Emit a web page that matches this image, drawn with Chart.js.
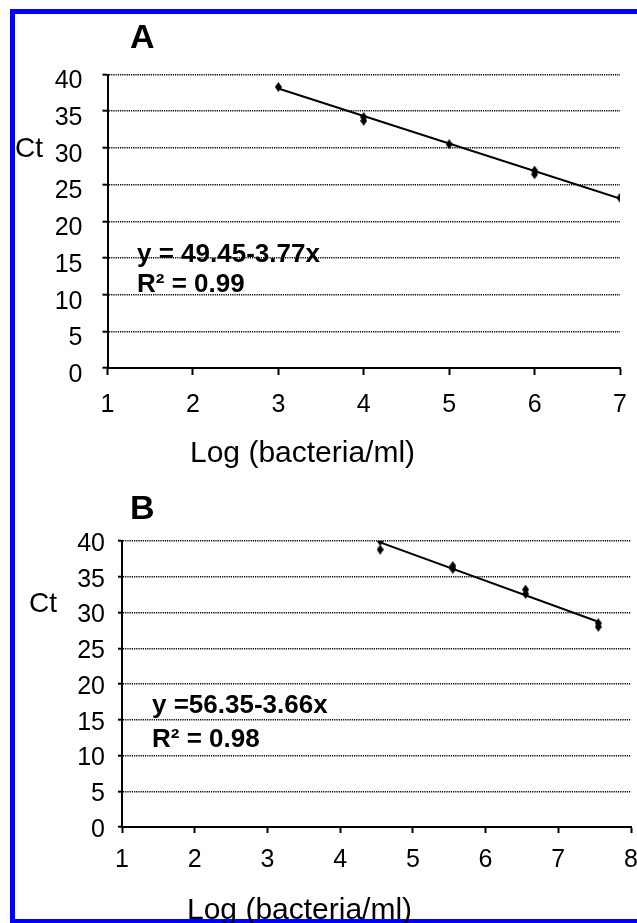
<!DOCTYPE html>
<html><head><meta charset="utf-8">
<script src="https://cdn.jsdelivr.net/npm/chart.js@4"></script>
<style>
html,body{margin:0;padding:0;background:#fff;width:637px;height:923px;overflow:hidden;position:relative}
#frame{position:absolute;left:10px;top:9px;width:700px;height:914px;border-top:5px solid #0000ff;border-left:5px solid #0000ff;border-bottom:4px solid #0000ff;box-sizing:border-box}
canvas{position:absolute;left:0}
#cA{top:0}
#cB{top:478px}
</style></head>
<body>
<div id="frame"></div>
<canvas id="cA" width="660" height="478"></canvas>
<canvas id="cB" width="660" height="445"></canvas>
<script>
// ---- data ----
const aLogX = [3, 4, 4, 5, 6, 6, 7];
const aCt   = [38.3, 34.2, 33.7, 30.5, 26.9, 26.4, 23.2];
const aFitX = [3, 7];
const aFitCt = [38.1, 23.1];
const bLogX = [4.55, 4.55, 5.55, 5.55, 6.55, 6.55, 7.55, 7.55];
const bCt   = [40.0, 38.8, 36.5, 36.1, 33.2, 32.6, 28.5, 28.0];
const bFitX = [4.55, 7.55];
const bFitCt = [39.8, 28.7];
const aXTicks = [1, 2, 3, 4, 5, 6, 7];
const bXTicks = [1, 2, 3, 4, 5, 6, 7, 8];
const yTicks = [0, 5, 10, 15, 20, 25, 30, 35, 40];
const aEquation = 'y = 49.45-3.77x';
const aR2 = 'R\u00B2 = 0.99';
const bEquation = 'y =56.35-3.66x';
const bR2 = 'R\u00B2 = 0.98';
const yTitle = 'Ct';
const xTitle = 'Log (bacteria/ml)';

const FONT = "'Liberation Sans', Arial, Helvetica, sans-serif";
Chart.defaults.font.family = FONT;
Chart.defaults.color = '#000';

// tall diamond marker
const diamond = document.createElement('canvas');
diamond.width = 7; diamond.height = 10;
(function () {
  const c = diamond.getContext('2d');
  c.fillStyle = '#000';
  c.beginPath();
  c.moveTo(3.5, 0); c.lineTo(7, 5); c.lineTo(3.5, 10); c.lineTo(0, 5); c.closePath();
  c.fill();
})();

const textPlugin = {
  id: 'freeText',
  afterDraw(chart, args, opts) {
    const ctx = chart.ctx;
    ctx.save();
    ctx.fillStyle = '#000';
    ctx.textAlign = 'left';
    ctx.textBaseline = 'alphabetic';
    for (const t of opts.items || []) {
      ctx.font = t.font;
      ctx.fillText(t.text, t.x, t.y);
    }
    ctx.restore();
  }
};

function pts(xs, ys) { return xs.map((v, i) => ({x: v, y: ys[i]})); }

function makeChart(id, cfg) {
  return new Chart(document.getElementById(id), {
    type: 'scatter',
    data: {
      datasets: [
        {data: pts(cfg.fitX, cfg.fitY), showLine: true, borderColor: '#000', borderWidth: 2,
         pointRadius: 0, pointHoverRadius: 0, fill: false, order: 2},
        {data: pts(cfg.px, cfg.py), showLine: false, pointStyle: diamond, pointRadius: 5,
         order: 1}
      ]
    },
    options: {
      responsive: false, animation: false, devicePixelRatio: 1,
      layout: {padding: {left: 0, top: cfg.padTop, right: cfg.padRight, bottom: 0}},
      plugins: {legend: {display: false}, tooltip: {enabled: false}, freeText: {items: cfg.texts}},
      scales: {
        x: {
          type: 'linear', min: cfg.xTicks[0], max: cfg.xTicks[cfg.xTicks.length - 1],
          afterBuildTicks: s => { s.ticks = cfg.xTicks.map(v => ({value: v})); },
          afterFit: s => { s.height = cfg.xHeight; },
          ticks: {font: {size: 25}, color: '#000', padding: cfg.xPad, maxRotation: 0, autoSkip: false},
          grid: {drawOnChartArea: false, drawTicks: true, tickLength: cfg.xTick, tickColor: '#000', tickWidth: 2, tickBorderDash: []},
          border: {display: true, color: '#000', width: 2}
        },
        y: {
          type: 'linear', min: 0, max: 40,
          afterBuildTicks: s => { s.ticks = yTicks.map(v => ({value: v})); },
          afterFit: s => { s.width = cfg.yWidth; },
          ticks: {font: {size: 25}, color: '#000', padding: cfg.yPad, labelOffset: cfg.yLabelOffset, autoSkip: false},
          grid: {color: '#000', lineWidth: 1.4, drawTicks: true, tickLength: cfg.yTick, tickColor: '#000', tickWidth: 2, tickBorderDash: []},
          border: {display: true, color: '#000', width: 2, dash: [1.2, 1]}
        }
      }
    },
    plugins: [textPlugin]
  });
}

makeChart('cA', {
  px: aLogX, py: aCt, fitX: aFitX, fitY: aFitCt, xTicks: aXTicks,
  padTop: 74.5, padRight: 40, xHeight: 110, yWidth: 107.5,
  xPad: 15.5, xTick: 7, yPad: 20, yTick: 5, yLabelOffset: 7,
  texts: [
    {text: 'A', font: 'bold 34px ' + FONT, x: 130, y: 48},
    {text: yTitle, font: '28px ' + FONT, x: 15, y: 157},
    {text: aEquation, font: 'bold 26px ' + FONT, x: 137, y: 262},
    {text: aR2, font: 'bold 26px ' + FONT, x: 137, y: 292},
    {text: xTitle, font: '30px ' + FONT, x: 190, y: 462}
  ]
});

makeChart('cB', {
  px: bLogX, py: bCt, fitX: bFitX, fitY: bFitCt, xTicks: bXTicks,
  padTop: 63, padRight: 29, xHeight: 96, yWidth: 122,
  xPad: 12.5, xTick: 6, yPad: 13, yTick: 4, yLabelOffset: 3,
  texts: [
    {text: 'B', font: 'bold 34px ' + FONT, x: 130, y: 41},
    {text: yTitle, font: '28px ' + FONT, x: 29, y: 134},
    {text: bEquation, font: 'bold 26px ' + FONT, x: 152, y: 235},
    {text: bR2, font: 'bold 26px ' + FONT, x: 152, y: 269},
    {text: xTitle, font: '30px ' + FONT, x: 187, y: 441}
  ]
});
</script>
</body></html>
